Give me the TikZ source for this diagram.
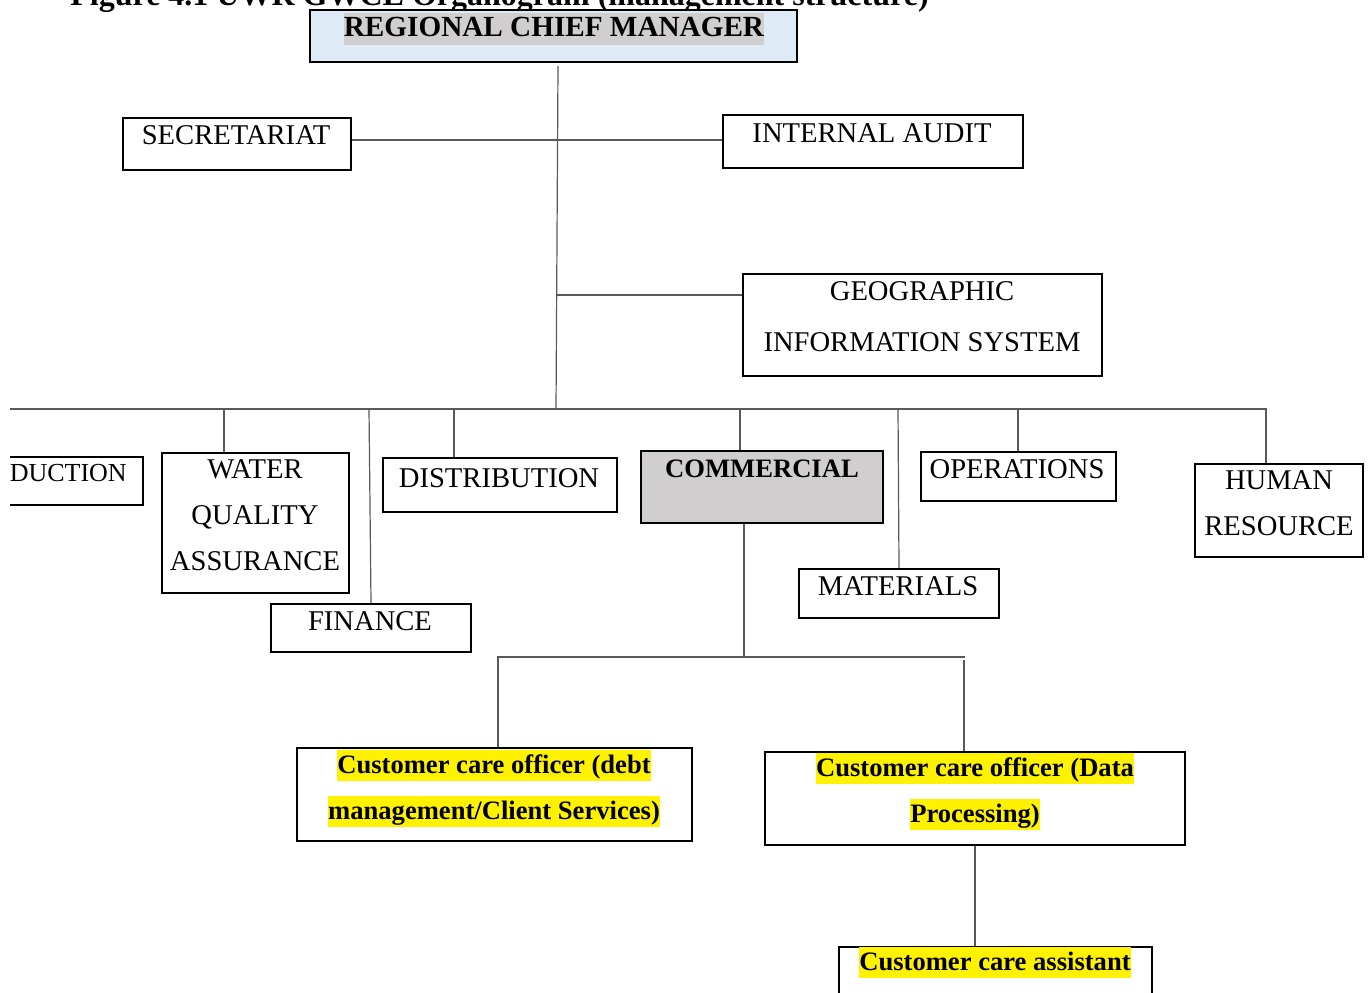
\documentclass[tikz,border=0pt]{standalone}
\usepackage{fontspec}
\setmainfont{Liberation Serif}
\definecolor{rcmblue}{HTML}{DEEAF6}
\definecolor{hlgray}{HTML}{D0CECE}
% markering av tekst
\newcommand{\hlyel}[1]{{\setlength{\fboxsep}{0pt}\colorbox{yellow}{\rule[-3.5pt]{0pt}{15.5pt}#1}}}
\newcommand{\hlgry}[1]{{\setlength{\fboxsep}{0pt}\colorbox{hlgray}{\rule[-4pt]{0pt}{16pt}#1}}}
\tikzset{
  box/.style={draw, line width=1pt},
  txt/.style={inner sep=0pt, align=center, font=\fontsize{14.3}{23}\selectfont},
  btxt/.style={txt, font=\fontsize{13.3}{23}\selectfont\bfseries},
  link/.style={draw=black!65, line width=0.6pt},
}
\begin{document}
\begin{tikzpicture}[x=0.5pt,y=-0.5pt]
  \useasboundingbox (0,0) rectangle (1368,992);
  \clip (10,0) rectangle (1368,992);

  % Tittel
  \node[anchor=base west, inner sep=0pt, font=\fontsize{16}{19}\selectfont\bfseries] (title) at (70,5)
    {Figure 4.1 UWR GWCL Organogram (management structure)};

  % Bokser
  \foreach \n/\cx/\cy/\w/\h/\f in {rcm/553.5/36/487/52/rcmblue, sec/237/144/228/52/white,
      aud/873/141.5/300/53/white, gis/922.5/325/359/102/white, pro/41.5/481/203/48/white,
      wqa/255.5/523/187/140/white, fin/371/628/200/48/white, dis/500/485/234/54/white,
      com/762/487/242/72/hlgray, ope/1018.5/476.5/195/49/white, mat/899/593.5/200/49/white,
      hr/1279/510.5/168/93/white, cc1/494.5/794.5/395/93/white, cc2/975/798.5/420/93/white,
      cca/995.5/993/313/93/white} {
    \node[box, fill=\f, minimum width=\w*0.5pt, minimum height=\h*0.5pt] (\n) at (\cx,\cy) {};
  }

  % Tekster
  \node[btxt, font=\fontsize{14.6}{23}\selectfont\bfseries] (rcm-t) at (554,28.5) {\hlgry{REGIONAL CHIEF MANAGER}};
  \node[txt] (sec-t) at (236,135) {SECRETARIAT};
  \node[txt] (aud-t) at (872,133) {INTERNAL AUDIT};
  \node[txt, font=\fontsize{14.3}{25.5}\selectfont] (gis-t) at (922,316.5) {GEOGRAPHIC\\INFORMATION SYSTEM};
  \node[txt, font=\fontsize{13}{23}\selectfont] (pro-t) at (43,473) {PRODUCTION};
  \node[txt] (wqa-t) at (255,515) {WATER\\QUALITY\\ASSURANCE};
  \node[txt] (fin-t) at (370,621) {FINANCE};
  \node[txt] (dis-t) at (499,478) {DISTRIBUTION};
  \node[btxt] (com-t) at (762,469) {COMMERCIAL};
  \node[txt] (ope-t) at (1017,469) {OPERATIONS};
  \node[txt] (mat-t) at (898,586) {MATERIALS};
  \node[txt] (hr-t) at (1279,503) {HUMAN\\RESOURCE};
  \node[btxt] (cc1-t) at (494,788) {\hlyel{Customer care officer (debt}\\\hlyel{management/Client Services)}};
  \node[btxt] (cc2-t) at (975,791) {\hlyel{Customer care officer (Data}\\\hlyel{Processing)}};
  \node[btxt] (cca-t) at (995,962) {\hlyel{Customer care assistant}};

  % Stamme
  \coordinate (top) at (558,66);
  \coordinate (hub) at (556,409);
  \draw[link] (top) -- (hub);
  \coordinate (s-a) at (557,140);
  \draw[link] (sec.east |- s-a) -- (aud.west |- s-a);
  \coordinate (g) at (557,295);
  \draw[link] (g) -- (gis.west |- g);

  % Buss til avdelinger
  \coordinate (bus-l) at (10,409);
  \coordinate (bus-r) at (1267,409);
  \draw[link] (bus-l) -- (bus-r);
  \foreach \n/\x in {wqa/224, dis/454, com/740, ope/1018, hr/1266} {
    \coordinate (d-\n) at (\x,409);
    \draw[link] (d-\n) -- (d-\n |- \n.north);
  }
  \coordinate (d-fin) at (369,409);
  \draw[link] (d-fin) -- (fin.north);
  \coordinate (d-mat) at (898,409);
  \draw[link] (d-mat) -- (mat.north);

  % Under COMMERCIAL
  \coordinate (c-l) at (497,657);
  \coordinate (c-r) at (965,657);
  \coordinate (c-m) at (744,657);
  \draw[link] (c-m |- com.south) -- (c-m);
  \draw[link] (c-l) -- (c-r);
  \coordinate (d-cc1) at (498,657);
  \draw[link] (d-cc1) -- (d-cc1 |- cc1.north);
  \coordinate (d-cc2) at (964,660);
  \draw[link] (d-cc2) -- (d-cc2 |- cc2.north);
  \draw[link] (cc2.south) -- (cc2.south |- cca.north);
\end{tikzpicture}
\end{document}
